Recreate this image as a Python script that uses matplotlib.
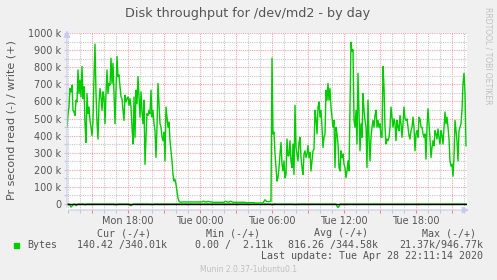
import numpy as np
import pandas as pd
import matplotlib
matplotlib.use("Agg")
import matplotlib.pyplot as plt
import matplotlib.dates as mdates
from matplotlib.ticker import MultipleLocator, FuncFormatter

### write rate in kB/s, one sample per 5 minutes ###
write_a = [449, 528, 567, 676, 656, 695, 548, 538, 518, 607, 597, 784, 646, 725, 626, 804, 617, 686, 469, 360,
           646, 528, 567, 489, 449, 400, 489, 745, 935, 646, 479, 380, 587, 676, 626, 548, 656, 626, 469, 646,
           784, 646, 705, 695, 853, 705, 823, 646, 469, 656, 863, 745, 755, 686, 626, 617, 548, 489, 636, 597,
           617, 626, 577]
write_b = [617, 567, 449, 351, 626, 390, 666, 587, 745, 626, 508, 656, 538, 469, 607, 232, 390, 528, 518, 548,
           528, 666, 508, 548, 469, 429, 272, 449, 705, 587, 469, 449, 390, 370, 420, 252, 567, 508, 449, 479,
           370, 311, 252, 173, 134, 144, 114, 75, 35, 16, 12]
write_idle = [10, 12, 12, 12, 12, 12, 12, 12, 12, 12, 12, 12, 12, 12, 12, 12, 12, 12, 12, 12,
              12, 12, 16, 16, 12, 12, 12, 16, 14, 12, 12, 12, 10, 10, 10, 10, 10, 10, 10, 10,
              10, 10, 10, 10, 14, 16, 12, 12, 10, 16, 16, 12, 10, 10, 10, 10, 10, 10, 10, 10,
              10, 10, 10, 10, 10, 8, 8, 8, 8, 8, 8, 8, 8, 8, 6, 6, 6, 6, 6, 6,
              6, 6, 6, 16, 25, 18, 14, 14, 14, 16, 16]
write_c = [853, 410, 420, 292, 213, 134, 154, 213, 292, 360, 232, 193, 252, 154, 173, 380, 282, 282, 370, 252,
           213, 351, 173, 577, 331, 292, 252, 360, 390, 272, 213, 173, 292, 311, 272, 292, 341, 272, 301, 193,
           252, 311, 321, 548, 498, 410, 567, 597, 508, 548, 449, 331, 390, 410]
write_d = [666, 607, 705, 607, 676, 567, 508, 449, 489, 213, 449, 410, 351, 213, 193, 311, 272, 292, 232, 213,
           154, 193, 252, 193, 587, 946, 892, 902, 489, 449, 548, 351, 764, 528, 311, 469, 390, 646, 548, 489,
           449, 213, 607, 390, 252, 390, 449, 489, 449, 518, 548, 449, 489, 449, 469, 390, 390, 804, 686, 449,
           351, 380, 370, 390]
write_e = [449, 567, 508, 449, 498, 469, 370, 489, 449, 429, 518, 469, 390, 469, 567, 498, 489, 498, 449, 400,
           380, 429, 449, 508, 449, 311, 410, 429, 390, 508, 498, 449, 449, 410, 390, 410, 262, 449, 557, 469,
           380, 272, 331, 370, 341, 429, 410, 380, 439, 390, 351, 429, 400, 351, 449, 538, 469, 508, 449, 380,
           252, 222, 232, 163, 272, 489, 429, 370, 252, 429, 449, 469, 548, 705, 764, 646, 340]

### read rate (drawn negative), only the non-zero samples ###
read_idx = [3, 4, 5, 6, 9, 10, 18, 48, 50, 63, 64, 65, 85, 205, 228, 270, 271, 272]
read_val = [8, 18, 12, 6, 10, 4, 5, 6, 4, 8, 10, 6, 5, 5, 4, 12, 21, 14]

title = "Disk throughput for /dev/md2 - by day"
ylabel = "Pr second read (-) / write (+)"
start = pd.Timestamp("2020-04-27 12:55")

write_k = np.array(write_a + write_b + write_idle + write_c + write_d + write_e, dtype=float)
read_k = np.zeros(len(write_k))
read_k[read_idx] = read_val
times = pd.date_range(start, periods=len(write_k), freq="5min")

GREEN = "#00cc00"
TXT = "#555555"
AXC = "#c8c8f0"

fig = plt.figure(figsize=(4.97, 2.80), dpi=100, facecolor="#f0f0f0")
ax = fig.add_axes([67/497, 1 - 210/280, 400/497, 177/280])
ax.set_facecolor("white")

ax.plot(times, -read_k, color=GREEN, lw=1.0, zorder=3)
ax.axhline(0, color="black", lw=1.0, zorder=4)
ax.plot(times, write_k, color=GREEN, lw=1.0, zorder=5)

ax.set_xlim(times[0], times[0] + pd.Timedelta(minutes=5*400))
ax.set_ylim(-35, 1000)

# grid: red major, grey minor, dotted
ax.xaxis.set_major_locator(mdates.HourLocator(byhour=range(0, 24, 3)))
ax.xaxis.set_minor_locator(mdates.HourLocator())
ax.xaxis.set_major_formatter(FuncFormatter(
    lambda v, p: mdates.num2date(v).strftime("%a %H:%M") if mdates.num2date(v).hour % 6 == 0 else ""))
ax.yaxis.set_major_locator(MultipleLocator(100))
ax.yaxis.set_minor_locator(MultipleLocator(50))
ax.yaxis.set_major_formatter(FuncFormatter(lambda v, p: "0" if v == 0 else "%d k" % v))

ax.grid(which="major", color="#f08080", alpha=0.7, ls=(0, (1, 1)), lw=0.8)
ax.grid(which="minor", color="#c8c8c8", ls=(0, (1, 1)), lw=0.8)
ax.set_axisbelow(True)

ax.tick_params(which="both", length=2, width=0.8, color="#f08080", labelsize=7, labelcolor=TXT, pad=2)
ax.tick_params(axis="y", which="both", color="#c8c8c8")
ax.tick_params(axis="x", which="minor", color="#c8c8c8")

for s in ax.spines.values():
    s.set_visible(False)
ax.annotate("", xy=(0, 1.03), xytext=(0, 0), xycoords="axes fraction",
            arrowprops=dict(arrowstyle="-|>,head_length=0.4,head_width=0.2", color=AXC, lw=0.8), zorder=6)
ax.annotate("", xy=(1.012, 0), xytext=(0, 0), xycoords="axes fraction",
            arrowprops=dict(arrowstyle="-|>,head_length=0.4,head_width=0.2", color=AXC, lw=0.8), zorder=6)

fig.text(248/497, 1 - 14/280, title, ha="center", va="center", fontsize=9.2, color=TXT)
fig.text(12/497, 1 - 120/280, ylabel, ha="center", va="center", rotation=90, fontsize=8, color=TXT)
fig.text(488/497, 1 - 56/280, "RRDTOOL / TOBI OETIKER", ha="center", va="center", rotation=-90,
         fontsize=5.5, color="#c0c0c0")

# legend block
mono = dict(family="DejaVu Sans Mono", fontsize=7.2, color=TXT, va="center")
heads = ["Cur (-/+)", "Min (-/+)", "Avg (-/+)", "Max (-/+)"]
head_x = [151, 260, 368, 476]
vals = ["140.42 /340.01k", "0.00 /  2.11k", "816.26 /344.58k", "21.37k/946.77k"]
val_x = [167, 273, 378, 483]
for h, x in zip(heads, head_x):
    fig.text(x/497, 1 - 233/280, h, ha="right", **mono)
for v, x in zip(vals, val_x):
    fig.text(x/497, 1 - 245/280, v, ha="right", **mono)
fig.text(27/497, 1 - 245/280, "Bytes", ha="left", **mono)
fig.patches.append(plt.Rectangle((14/497, 1 - 248/280), 5/497, 5/280, transform=fig.transFigure,
                                 color=GREEN, figure=fig))
fig.text(483/497, 1 - 256/280, "Last update: Tue Apr 28 22:11:14 2020", ha="right", **mono)
fig.text(248/497, 1 - 269/280, "Munin 2.0.37-1ubuntu0.1", ha="center", va="center", fontsize=5.5, color="#c0c0c0")

fig.savefig("out.png", dpi=100, facecolor=fig.get_facecolor())
